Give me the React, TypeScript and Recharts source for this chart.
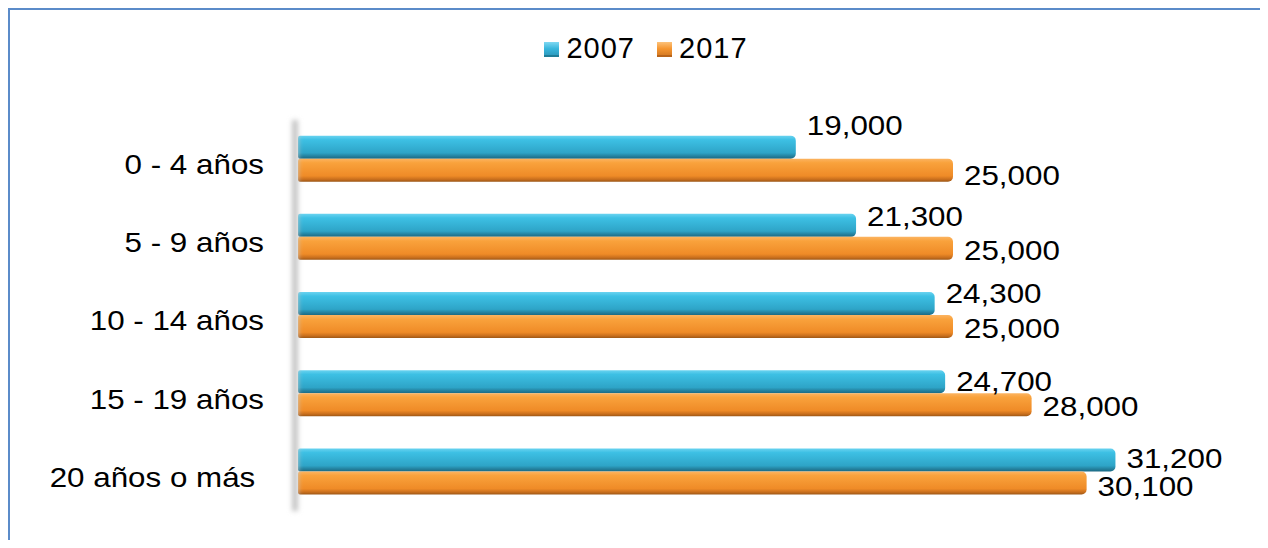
import React from 'react';
import { BarChart, Bar, XAxis, YAxis, LabelList } from 'recharts';

const categories = ['0 - 4 años', '5 - 9 años', '10 - 14 años', '15 - 19 años', '20 años o más '];
const values2007 = [19000, 21300, 24300, 24700, 31200];
const values2017 = [25000, 25000, 25000, 28000, 30100];
const seriesNames = ['2007', '2017'];
const xDomain: [number, number] = [0, 35000];

// small vertical nudges of the value labels (as placed in the original)
const labelNudge2007 = [-22, -9, -10, -1, -2];
const labelNudge2017 = [5, 2, 2, 1, 3];

const data = categories.map((c, i) => ({ cat: c, v2007: values2007[i], v2017: values2017[i] }));

const FONT = '"Liberation Sans", Arial, sans-serif';
const SX = 1.12;

const fmt = (v: number) => v.toLocaleString('en-US');

const CatTick = (props: any) => {
  const { x, y, payload } = props;
  return (
    <g transform={`translate(${x},${y + 5})`}>
      <text
        transform={`scale(${SX},1)`}
        textAnchor="end"
        dominantBaseline="central"
        fontSize={28}
        fontFamily={FONT}
        fill="#000"
        style={{ whiteSpace: 'pre' }}
      >
        {payload.value}
      </text>
    </g>
  );
};

const makeLabel = (nudge: number[]) => (props: any) => {
  const { x, y, width, height, value, index } = props;
  const tx = Number(x) + Number(width) + 11;
  const ty = Number(y) + Number(height) / 2 + (nudge[index] || 0);
  return (
    <g transform={`translate(${tx},${ty})`}>
      <text
        transform={`scale(${SX},1)`}
        textAnchor="start"
        dominantBaseline="central"
        fontSize={28}
        fontFamily={FONT}
        fill="#000"
      >
        {fmt(Number(value))}
      </text>
    </g>
  );
};

const legendColors = [
  'linear-gradient(180deg, #7fd8f2 0%, #38b6dc 45%, #2a94b8 100%)',
  'linear-gradient(180deg, #fcc27a 0%, #f59630 45%, #cf7420 100%)',
];

export default function App() {
  return (
    <div style={{ position: 'relative', width: 1268, height: 548, margin: -8, overflow: 'hidden', background: '#fff' }}>
      <div
        style={{
          position: 'absolute',
          left: 7,
          top: 7,
          width: 1320,
          height: 620,
          border: '3px solid #5b8bc9',
          boxSizing: 'border-box',
        }}
      />
      <div
        style={{
          position: 'absolute',
          left: 12,
          top: 30,
          width: 1268,
          display: 'flex',
          justifyContent: 'center',
          alignItems: 'center',
          fontFamily: FONT,
          fontSize: 29,
          letterSpacing: 1,
          color: '#000',
          lineHeight: '36px',
        }}
      >
        {seriesNames.map((n, i) => (
          <div key={n} style={{ display: 'flex', alignItems: 'center', marginRight: i === 0 ? 22 : 0 }}>
            <span
              style={{
                display: 'inline-block',
                width: 15,
                height: 15,
                background: legendColors[i],
                boxShadow: i === 0 ? 'inset 0 -2px 0 #1f7d98' : 'inset 0 -2px 0 #b8641a',
                marginRight: 7,
                marginTop: 2,
              }}
            />
            <span>{n}</span>
          </div>
        ))}
      </div>
      <div style={{ position: 'absolute', left: 0, top: 0 }}>
        <BarChart
          width={1268}
          height={548}
          data={data}
          layout="vertical"
          margin={{ top: 120, right: 53, bottom: 37, left: 0 }}
          barCategoryGap="20%"
          barGap={0}
        >
          <defs>
            <linearGradient id="g2007" x1="0" y1="0" x2="0" y2="1">
              <stop offset="0%" stopColor="#6ad3f0" />
              <stop offset="18%" stopColor="#3dc0e4" />
              <stop offset="75%" stopColor="#2ea4c7" />
              <stop offset="90%" stopColor="#237f9c" />
              <stop offset="100%" stopColor="#1b6a83" />
            </linearGradient>
            <linearGradient id="g2017" x1="0" y1="0" x2="0" y2="1">
              <stop offset="0%" stopColor="#fcb461" />
              <stop offset="18%" stopColor="#f9a23c" />
              <stop offset="75%" stopColor="#ef8b27" />
              <stop offset="90%" stopColor="#c96f1d" />
              <stop offset="100%" stopColor="#9d5716" />
            </linearGradient>
            <filter id="axisBlur" filterUnits="userSpaceOnUse" x="260" y="90" width="80" height="460">
              <feGaussianBlur stdDeviation="2.5" />
            </filter>
          </defs>
          <XAxis type="number" domain={xDomain} hide />
          <YAxis
            type="category"
            dataKey="cat"
            width={298}
            tickSize={0}
            tickMargin={34}
            tick={<CatTick />}
            axisLine={{ stroke: '#c4c4c4', strokeWidth: 6, filter: 'url(#axisBlur)', transform: 'translate(-3,0)' }}
            interval={0}
          />
          <Bar dataKey="v2007" name={seriesNames[0]} fill="url(#g2007)" radius={[2, 5, 5, 2]} isAnimationActive={false}>
            <LabelList dataKey="v2007" content={makeLabel(labelNudge2007)} />
          </Bar>
          <Bar dataKey="v2017" name={seriesNames[1]} fill="url(#g2017)" radius={[2, 5, 5, 2]} isAnimationActive={false}>
            <LabelList dataKey="v2017" content={makeLabel(labelNudge2017)} />
          </Bar>
        </BarChart>
      </div>
    </div>
  );
}
